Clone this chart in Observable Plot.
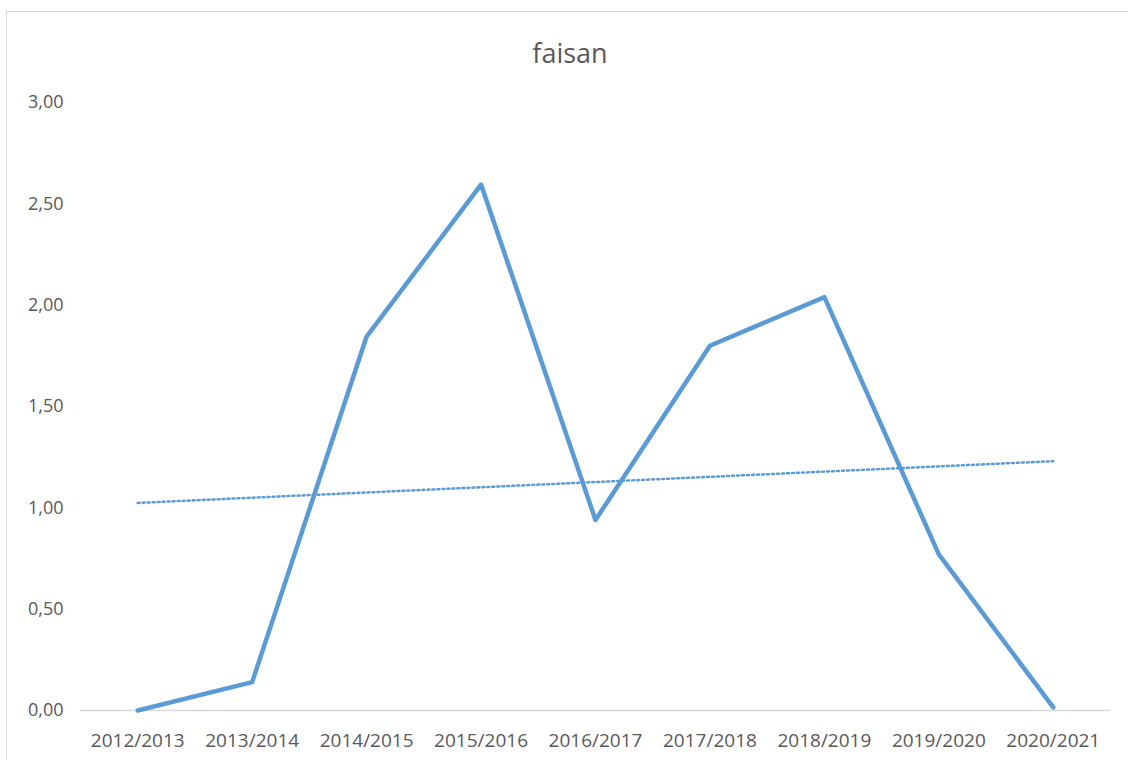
<!DOCTYPE html>
<html>
<head>
<meta charset="utf-8">
<script src="https://cdn.jsdelivr.net/npm/d3@7"></script>
<script src="https://cdn.jsdelivr.net/npm/@observablehq/plot@0.6"></script>
<style>
  html, body { margin: 0; padding: 0; background: #ffffff; }
  body { width: 1128px; height: 760px; position: relative; overflow: hidden; font-family: "Open Sans", sans-serif; }
  #frame { position: absolute; left: 6px; top: 11px; width: 1200px; height: 800px; border: 1.5px solid #d9d9d9; box-sizing: border-box; }
  #title { position: absolute; left: 0; width: 1140px; top: 39px; text-align: center; font-size: 27px; color: #595959; line-height: 1; }
  #chart { position: absolute; left: 0; top: 80px; }
</style>
</head>
<body>
<div id="frame"></div>
<div id="title">faisan</div>
<div id="chart"></div>
<script>
const categories = ["2012/2013", "2013/2014", "2014/2015", "2015/2016", "2016/2017", "2017/2018", "2018/2019", "2019/2020", "2020/2021"];
const values = [0.00, 0.14, 1.845, 2.595, 0.94, 1.80, 2.04, 0.77, 0.015];
const yTicks = [0, 0.5, 1, 1.5, 2, 2.5, 3];

const data = categories.map((c, i) => ({i, label: c, v: values[i]}));
const fmt = d3.format(".2f");
const lineColor = "#5b9bd5";

const chart = Plot.plot({
  width: 1128,
  height: 680,
  marginLeft: 80,
  marginRight: 18,
  marginTop: 22,
  marginBottom: 50,
  style: {fontFamily: "Open Sans, sans-serif", fontSize: "18px", color: "#595959", background: "transparent"},
  x: {domain: [-0.5, categories.length - 0.5], label: null},
  y: {domain: [0, 3], label: null},
  marks: [
    Plot.ruleY([0], {stroke: "#d9d9d9", strokeWidth: 1.5}),
    Plot.axisY({ticks: yTicks, tickSize: 0, tickPadding: 17, tickFormat: d => fmt(d).replace(".", ","), fill: "#595959", fontSize: 18}),
    Plot.axisX({ticks: categories.map((_, i) => i), tickSize: 0, tickPadding: 23, tickFormat: i => categories[i], fill: "#595959", fontSize: 19}),
    Plot.linearRegressionY(data, {x: "i", y: "v", ci: 0, stroke: lineColor, strokeWidth: 2.5, strokeDasharray: "2 3"}),
    Plot.line(data, {x: "i", y: "v", stroke: lineColor, strokeWidth: 4.5, strokeLinejoin: "round", strokeLinecap: "round"})
  ]
});
document.getElementById("chart").appendChild(chart);
</script>
</body>
</html>
